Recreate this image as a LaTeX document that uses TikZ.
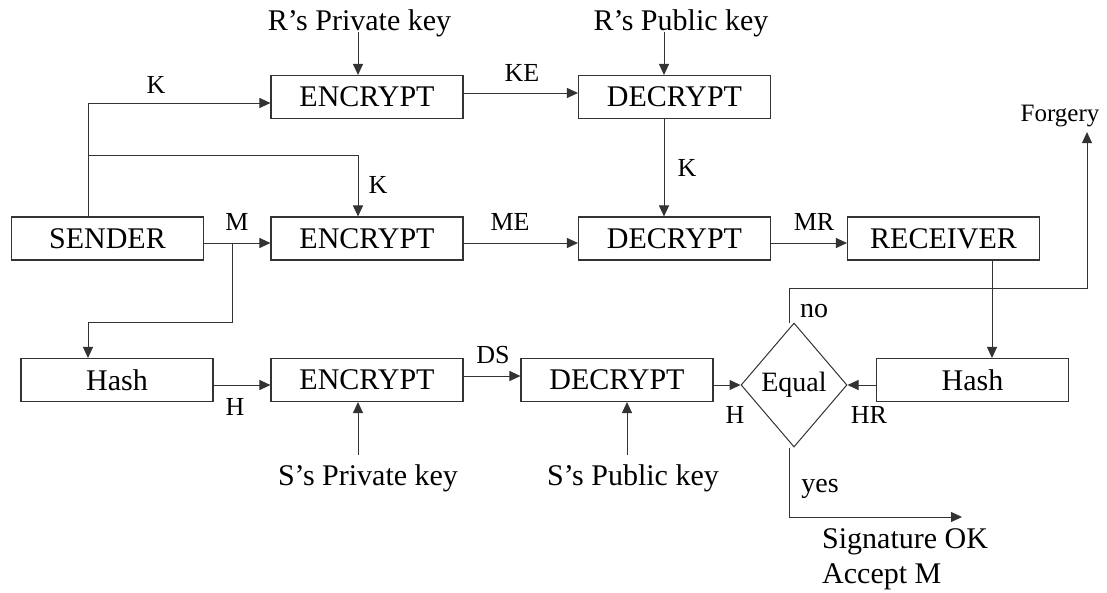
\documentclass[tikz,border=0pt]{standalone}
\usepackage{fontspec}
\setmainfont{Liberation Serif}
\usetikzlibrary{positioning}
\usetikzlibrary{arrows.meta,shapes.geometric}
\usetikzlibrary{calc}
\tikzstyle{box}=[rectangle,draw=black!80,line width=1.1pt,minimum width=192pt,minimum height=43pt,inner sep=0pt,font=\fontsize{30}{36}\selectfont]
\tikzstyle{test}=[diamond,draw=black!80,line width=1pt,minimum width=106pt,minimum height=124pt,inner sep=0pt,font=\fontsize{28}{34}\selectfont]
\tikzstyle{keytext}=[inner sep=0pt,font=\fontsize{30}{36}\selectfont]
\tikzstyle{weight}=[inner sep=0pt,font=\fontsize{26}{31}\selectfont]
\tikzstyle{flow}=[-{Triangle[length=11pt,width=10pt]},line width=1pt,draw=black!80]
\tikzstyle{plain}=[-,line width=1pt,draw=black!80]

\begin{document}
\begin{tikzpicture}[x=1pt,y=-1pt]
\useasboundingbox (0,0) rectangle (1107,592);

%boxes
    \foreach \pos/\name/\label in {{(367,97)/encK/ENCRYPT}, {(674.5,97)/decK/DECRYPT},
        {(107.5,238.5)/sender/SENDER}, {(367,238.5)/encM/ENCRYPT}, {(674.5,238.5)/decM/DECRYPT}, {(943.5,238.5)/receiver/RECEIVER},
        {(117,380)/hashS/Hash}, {(367,380)/encH/ENCRYPT}, {(617,380)/decH/DECRYPT}, {(972.5,380)/hashR/Hash}}
        \node[box] (\name) at \pos {\label};
\node[test] (equal) at (794,385) {Equal};

%keys
    \foreach \pos/\name/\label in {{(359.5,23)/rpriv/R’s Private key}, {(681,23)/rpub/R’s Public key},
        {(368,478)/spriv/S’s Private key}, {(633,478)/spub/S’s Public key}}
        \node[keytext] (\name) at \pos {\label};
\node[inner sep=0pt,font=\fontsize{25}{30}\selectfont] (forgery) at (1060,116) {Forgery};
\node[keytext,anchor=base west] (sigok) at (822,548) {Signature OK};
\node[keytext,anchor=base west] (acceptm) at (822,583) {Accept M};

%labels
    \foreach \pos/\name/\label in {{(156,85)/lK/K}, {(378,185)/lKb/K}, {(522,73)/lKE/KE}, {(687,168)/lKc/K},
        {(237,222)/lM/M}, {(510,222)/lME/ME}, {(814,222)/lMR/MR},
        {(235,407)/lH/H}, {(493,355)/lDS/DS}, {(735,415)/lHb/H}, {(869,415)/lHR/HR}}
        \node[weight] (\name) at \pos {\label};
\node[inner sep=0pt,font=\fontsize{28}{34}\selectfont] (lno) at (814,311) {no};
\node[inner sep=0pt,font=\fontsize{28}{34}\selectfont] (lyes) at (820,489) {yes};

%forks and free ends
\coordinate (kfork) at (88,155);
\coordinate (mfork) at (232,243);
\coordinate (nobend) at (789,288);
\coordinate (okend) at (962,517);
\coordinate (rprivtip) at (358,32);
\coordinate (rpubtip) at (664,32);
\coordinate (sprivtip) at (358,455);
\coordinate (spubtip) at (627,455);

%key exchange
\draw[flow] ([xshift=-19.5pt]sender.north) |- ([yshift=-6pt]encK.west);
\draw[flow] (kfork) -| ([xshift=-9pt]encM.north);
\draw[flow] (rprivtip) -- (rprivtip |- encK.north);
\draw[flow] (rpubtip) -- (rpubtip |- decK.north);
\draw[flow] ([yshift=4pt]encK.east) -- ([yshift=4pt]decK.west);
\draw[flow] ([xshift=-10.5pt]decK.south) -- ([xshift=-10.5pt]decM.north);

%message
    \foreach \source/ \dest in {sender/encM, encM/decM, decM/receiver}
        \draw[flow] ([yshift=-4.5pt]\source.east) -- ([yshift=-4.5pt]\dest.west);
\draw[flow] (mfork) -- ++(0,79) -| ([xshift=-29pt]hashS.north);
\draw[flow] ([xshift=48.5pt]receiver.south) -- ([xshift=48.5pt]receiver.south |- hashR.north);

%signature
\draw[flow] ([yshift=-5pt]hashS.east) -- ([yshift=-5pt]encH.west);
\draw[flow] ([yshift=4pt]encH.east) -- ([yshift=4pt]decH.west);
\draw[flow] (sprivtip) -- (sprivtip |- encH.south);
\draw[flow] (spubtip) -- (spubtip |- decH.south);
\draw[flow] (decH.east |- equal.west) -- (equal.west);
\draw[flow] (hashR.west |- equal.east) -- (equal.east);

%decision
\draw[plain] ([xshift=-5pt]equal.north) -- ([xshift=-5pt]equal.north |- nobend) -- (nobend);
\draw[flow] (nobend) -| ([xshift=27pt,yshift=-5pt]forgery.south);
\draw[flow] ([xshift=-5pt]equal.south) |- (okend);

\end{tikzpicture}
\end{document}
